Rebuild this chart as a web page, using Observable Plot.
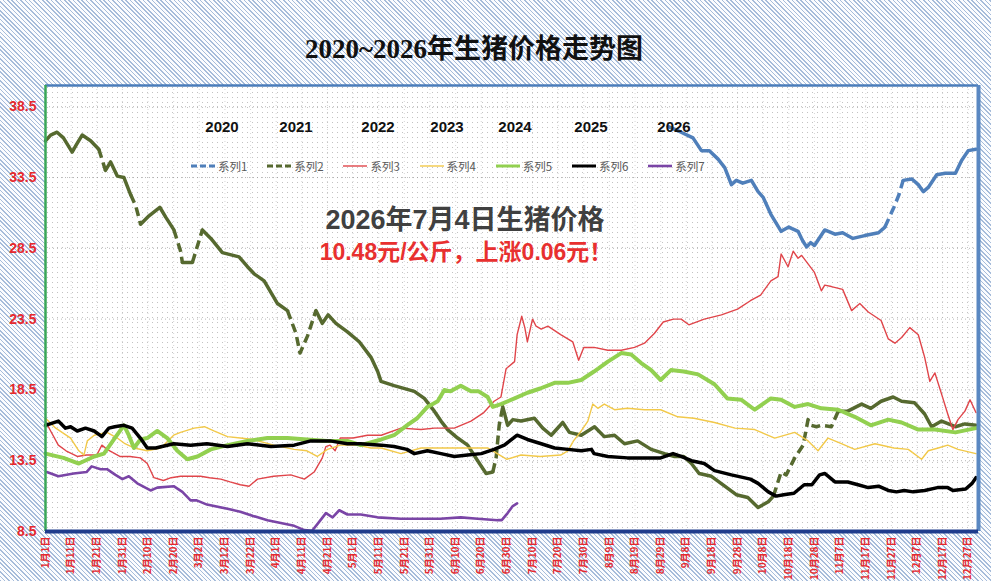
<!DOCTYPE html>
<html>
<head>
<meta charset="utf-8">
<script src="https://cdn.jsdelivr.net/npm/d3@7"></script>
<script src="https://cdn.jsdelivr.net/npm/@observablehq/plot@0.6"></script>
<style>
  html, body { margin: 0; padding: 0; }
  body {
    width: 991px; height: 581px; overflow: hidden;
    background: repeating-linear-gradient(45deg, #a6bcda 0 1.1px, #fbfcfe 1.1px 3.1px);
    font-family: "Liberation Sans", "Noto Sans CJK SC", sans-serif;
  }
  #wrap { position: relative; width: 991px; height: 581px; }
  #plotbg {
    position: absolute; left: 45px; top: 85px; width: 933px; height: 446px;
    background-color: #fff;
    background-image: radial-gradient(circle, #c2c2c2 0.55px, transparent 0.9px);
    background-size: 5px 5px;
  }
  #chart { position: absolute; left: 0; top: 0; }
  .abs { position: absolute; transform: translate(-50%, -50%); white-space: nowrap; }
  #title { font-family: "Liberation Serif", "Noto Sans CJK SC", serif; font-weight: bold; font-size: 27px; color: #111; }
  #ann1 { font-family: "Liberation Sans", "Noto Sans CJK SC", sans-serif; font-weight: bold; font-size: 27px; color: #404040; }
  #ann2 { font-family: "Liberation Sans", "Noto Sans CJK SC", sans-serif; font-weight: bold; font-size: 23px; color: #e8302f; }
  .year { font-weight: bold; font-size: 15px; color: #111; }
  .leg { position: absolute; display: flex; align-items: center; transform: translateY(-50%); font-family: "Noto Sans CJK SC", sans-serif; font-size: 11.5px; color: #595959; }
  .leg svg { margin-right: 2px; }
</style>
</head>
<body>
<div id="wrap">
  <div id="plotbg"></div>
  <div id="chart"></div>
</div>
<script>
// ---------------- data ----------------
const seriesNames = ["系列1", "系列2", "系列3", "系列4", "系列5", "系列6", "系列7"];
const yearLabels = ["2020", "2021", "2022", "2023", "2024", "2025", "2026"];
const titleText = "2020~2026年生猪价格走势图";
const noteLine1 = "2026年7月4日生猪价格";
const noteLine2 = "10.48元/公斤，上涨0.06元！";
const yTicks = [8.5, 13.5, 18.5, 23.5, 28.5, 33.5, 38.5];
const tickDays = [0,10,20,30,40,50,60,70,80,90,100,110,120,130,140,150,160,170,180,190,200,210,220,230,240,250,260,270,280,290,300,310,320,330,340,350,360];
const dateLabels = ["1月1日","1月11日","1月21日","1月31日","2月10日","2月20日","3月2日","3月12日","3月22日","4月1日","4月11日","4月21日","5月1日","5月11日","5月21日","5月31日","6月10日","6月20日","6月30日","7月10日","7月20日","7月30日","8月9日","8月19日","8月29日","9月8日","9月18日","9月28日","10月8日","10月18日","10月28日","11月7日","11月17日","11月27日","12月7日","12月17日","12月27日"];

// [day of year, price]
const s1 = [[243,37.1],[248,36.7],[252.6,36.3],[255.9,35.4],[259,35.4],[262.4,34.8],[265,34.2],[267.6,33.0],[269.5,33.3],[272,33.1],[275.4,33.3],[278,32.5],[280,32.1],[283,30.9],[287,29.7],[290,30.0],[293.6,29.7],[295.5,29.0],[297,28.6],[298.5,28.9],[300,28.7],[304,29.8],[308,29.5],[311,29.6],[315,29.2],[319.6,29.4],[325,29.6],[327.5,30.0],[331,31.4],[333,32.3],[334.6,33.3],[338,33.4],[340.5,33.0],[342.5,32.5],[344.4,32.8],[347.7,33.7],[351,33.8],[355,33.8],[357.4,34.7],[360,35.4],[363,35.5]];
const s1Missing = [[295.8, 297.2], [327.8, 334.2]];

const s2 = [[0,36.1],[2,36.5],[4.5,36.7],[7,36.3],[10.4,35.3],[12,35.8],[14.3,36.5],[17.6,36.1],[20.8,35.5],[23.4,34.0],[25.4,34.6],[28,33.6],[30.6,33.5],[33.2,32.3],[35.2,31.5],[37.1,30.2],[40.4,30.8],[44.6,31.4],[46.9,30.7],[50.1,29.8],[52.7,28.3],[53.4,27.5],[57.3,27.5],[61.2,29.8],[64.5,29.2],[69,28.2],[75.5,27.9],[78.8,27.2],[81.4,26.7],[85.3,26.2],[90.5,24.6],[94.4,24.1],[97.7,22.5],[99.3,21.1],[102.2,22.3],[105.5,24.1],[108,23.2],[110.3,23.8],[113.3,23.2],[117.8,22.6],[122.4,21.9],[127,20.8],[129.6,19.8],[130.9,19.1],[136,18.8],[143.9,18.4],[147.8,17.9],[151.7,17.0],[154.3,16.3],[156.9,15.7],[160.8,15.1],[164.7,14.6],[168.6,13.5],[171.9,12.6],[174.5,12.7],[175.8,13.7],[177,16.0],[178.4,17.3],[180.3,16.0],[182.3,16.4],[185.5,16.3],[190.7,16.5],[194,15.8],[197.3,15.3],[201.8,16.2],[204.4,15.5],[209,15.3],[214.2,15.9],[218,15.2],[222,15.3],[225.9,14.7],[231,14.9],[236.3,14.3],[241.5,14.0],[245.4,13.8],[249,13.8],[252,13.3],[255,12.6],[259.8,12.4],[265,11.7],[269.5,11.1],[274,10.9],[278,10.2],[282,10.6],[284,11.0],[287,12.7],[289,12.5],[292.3,13.7],[295.6,14.6],[297.5,16.4],[298.8,16.0],[300.8,15.9],[302.7,16.0],[306.6,15.9],[309.3,17.0],[313,17.0],[318.4,17.5],[322,17.2],[326,17.7],[330.7,18.0],[334,17.7],[339,17.6],[343,16.8],[345.7,15.9],[349.6,16.3],[355,15.9],[358.7,16.1],[363,16.0]];
const s2Missing = [[21.5, 23], [33.5, 37], [50.5, 54], [57.5, 61], [95.5, 105], [174.8, 178], [284.1, 309.5]];

const s3 = [[0,16.3],[2,15.6],[5,14.6],[8,14.2],[12.4,13.8],[16,13.9],[20,13.9],[22,14.6],[24,14.3],[29,13.8],[33,13.8],[37,13.7],[39.7,13.3],[42.3,12.3],[46,12.1],[49,12.3],[52.7,12.4],[60.5,12.4],[64,12.3],[68.4,12.2],[72,12.0],[76,11.8],[79.4,11.7],[82.7,12.2],[89,12.4],[95.7,12.5],[101,12.2],[104.8,12.7],[108,13.7],[109.4,14.5],[111,14.6],[113,14.2],[115,15.1],[120,15.1],[125.6,15.3],[131,15.3],[138.7,15.8],[146.5,15.7],[151.7,15.8],[159.5,15.8],[166,16.3],[171,16.9],[175,17.7],[177.7,18.0],[179.7,20.0],[183,20.5],[184,22.4],[185.8,23.7],[187,22.9],[188,21.9],[190,23.5],[191.4,23.0],[193.4,22.8],[196,23.0],[201,22.4],[205.7,21.9],[208,20.6],[210,21.5],[214,21.5],[219.4,21.3],[224.6,21.3],[229.8,21.5],[233.7,21.8],[237.6,22.5],[241,23.3],[245,23.5],[248,23.5],[251,23.1],[257,23.5],[263.7,23.8],[270,24.2],[275,24.8],[279,25.2],[283,26.2],[285.8,26.5],[287,28.1],[289.7,27.2],[291.7,28.3],[293.6,27.8],[295,28.0],[297.5,27.4],[300,26.8],[302.7,25.5],[304,25.9],[306.6,25.8],[311,25.6],[314.5,24.1],[317.7,24.6],[321,24.0],[326,23.4],[328.8,22.1],[331.4,21.8],[334,22.2],[337.2,22.9],[340.5,22.4],[343,20.8],[345,19.1],[347,19.7],[349.6,18.2],[352,16.8],[354,15.7],[356,16.4],[358.7,17.0],[360.7,17.8],[363,16.9]];

const s4 = [[0,16.5],[4,15.8],[9.8,15.1],[13,14.2],[15,13.9],[16.3,14.9],[19,15.3],[24,15.5],[28,15.1],[31,14.7],[34.5,14.4],[39.7,14.2],[45,14.4],[50,15.3],[52.7,15.5],[58,15.8],[62,15.9],[65.7,15.6],[71,15.2],[76,15.1],[81,15.0],[89,14.6],[97,14.3],[102,14.2],[106,13.8],[110,14.3],[115,14.6],[121.8,14.6],[127,14.4],[131,14.4],[138.7,14.0],[146.5,14.4],[157,14.4],[166,14.4],[172.5,14.4],[180,13.6],[185.5,13.9],[193,13.8],[201,13.9],[203.8,14.2],[206,14.9],[209,15.6],[211.6,16.3],[213.5,17.5],[215.5,17.2],[218,17.5],[222,17.1],[227,17.2],[233.7,17.1],[240,17.1],[246.7,16.6],[253,16.5],[261,16.2],[269,15.8],[276.7,15.7],[284.5,15.1],[292.3,15.5],[297.5,14.9],[301.4,14.2],[305.3,15.1],[310.5,14.7],[315.7,14.3],[323.6,14.7],[331,14.4],[336.6,14.3],[341.8,13.6],[344.4,14.2],[348.3,14.4],[352,14.6],[356,14.3],[363,14.0]];

const s5 = [[0,14.0],[7,13.7],[13,13.3],[19,13.8],[22.8,14.0],[26.7,15.0],[30.6,16.0],[32.5,15.3],[34.5,14.4],[37,15.0],[39.7,15.1],[43.6,15.6],[47.5,15.1],[51.4,14.2],[55.3,13.6],[59.3,13.8],[64.5,14.3],[71,14.6],[78.8,14.9],[86.6,15.1],[94.4,15.1],[102,15.0],[110,14.9],[117.8,14.9],[123,14.6],[131,15.0],[136,15.3],[141,16.0],[145,16.5],[149,17.3],[153,17.7],[155.6,18.5],[158,18.4],[162,18.8],[166,18.4],[169,18.4],[172.5,18.0],[174.5,17.3],[177.7,17.5],[183,17.9],[188,18.3],[193,18.6],[198.6,19.0],[203.8,19.0],[209,19.2],[214,19.8],[219.4,20.5],[224.6,21.1],[228.5,21.0],[232.4,20.4],[236.3,19.9],[240,19.2],[244,19.9],[249,19.8],[254.6,19.6],[261,18.9],[266,17.9],[271.5,17.8],[276.7,17.1],[283,17.9],[287,17.8],[292.3,17.3],[297.5,17.5],[302.7,17.2],[309.3,17.1],[315.7,16.6],[322,16.0],[328.8,16.4],[334,16.2],[340.5,15.7],[347,15.7],[355,15.5],[363,15.8]];

const s6 = [[0,16.0],[5,16.3],[7.8,15.8],[9.8,15.9],[12.4,15.6],[15.6,15.8],[19,15.6],[22,15.2],[24.7,15.8],[27,15.9],[30.6,16.0],[33.8,15.8],[37,15.1],[39.7,14.4],[43,14.4],[50,14.7],[56.6,14.6],[63,14.7],[71,14.5],[78.8,14.7],[88,14.5],[97,14.6],[103.5,14.9],[111,14.9],[117.8,14.7],[123,14.7],[131,14.6],[136,14.5],[141,14.3],[143.9,14.0],[149,14.2],[154.3,14.0],[159.5,13.8],[164.7,13.9],[170,14.0],[175,14.3],[179,14.6],[184,15.3],[188,15.0],[193.4,14.7],[198.6,14.4],[203.8,14.3],[209,14.2],[213,14.3],[214,14.0],[219.4,13.8],[227,13.7],[235,13.7],[240,13.7],[244.8,14.0],[248,13.8],[252,13.5],[257,13.3],[261,12.8],[267.6,12.5],[275,12.2],[278,11.9],[282,11.3],[285,11.0],[288,11.1],[292,11.2],[296,11.8],[299,11.8],[302,12.5],[304,12.6],[308,12.0],[313,12.0],[317,11.8],[321,11.6],[325,11.7],[328.8,11.4],[332,11.3],[335,11.4],[338.5,11.3],[343,11.4],[348,11.6],[352,11.6],[354,11.4],[359,11.5],[361.5,11.9],[363,12.3]];

const s7 = [[0.5,12.7],[5,12.4],[11,12.6],[16,12.7],[18,13.1],[21.5,12.9],[24,12.9],[27.3,12.5],[30,12.2],[32.5,12.4],[35.8,11.9],[41,11.4],[43.6,11.6],[50,11.7],[53.4,11.3],[56.6,10.7],[59,10.7],[63,10.4],[71,10.1],[76,9.9],[81,9.6],[86.6,9.3],[91.8,9.1],[97,8.9],[101,8.6],[104,8.55],[106,9.0],[109.4,9.8],[112,9.5],[114.6,10.0],[117.8,9.7],[123,9.7],[129.5,9.5],[138.7,9.4],[146.5,9.4],[154,9.4],[162,9.5],[168.6,9.4],[176.4,9.3],[178,9.3],[180.3,9.8],[182.3,10.3],[184,10.48]];

// ---------------- styling / layout ----------------
const styles = [
  {stroke: "#4f7fba", width: 3.5, dashedLegend: true},
  {stroke: "#56692f", width: 3.5, dashedLegend: true},
  {stroke: "#e0454a", width: 1.4},
  {stroke: "#f2c94a", width: 1.4},
  {stroke: "#92d050", width: 4},
  {stroke: "#000000", width: 3.5},
  {stroke: "#7a45a6", width: 2.6}
];
const seriesData = [s1, s2, s3, s4, s5, s6, s7];
const missing = [s1Missing, s2Missing, [], [], [], [], []];

function split(points, gaps) {
  const solid = [], dashed = [];
  let run = 0, prev = null;
  for (let i = 1; i < points.length; i++) {
    const [x0, y0] = points[i - 1], [x1, y1] = points[i];
    const m = (x0 + x1) / 2;
    const isDash = gaps.some(([a, b]) => m >= a && m <= b);
    const target = isDash ? dashed : solid;
    if (isDash !== prev) { run++; target.push({x: x0, y: y0, run}); }
    target.push({x: x1, y: y1, run});
    prev = isDash;
  }
  return {solid, dashed};
}

const lineMarks = [];
seriesData.forEach((pts, i) => {
  const st = styles[i];
  const {solid, dashed} = split(pts, missing[i]);
  const common = {x: "x", y: "y", z: "run", stroke: st.stroke, strokeWidth: st.width, strokeLinejoin: "round", strokeLinecap: "round"};
  lineMarks.push(Plot.line(solid, common));
  if (dashed.length) lineMarks.push(Plot.line(dashed, {...common, strokeDasharray: "9,5", strokeLinecap: "butt"}));
});

const red = "#e5292e";
const chart = Plot.plot({
  width: 991,
  height: 581,
  marginLeft: 45,
  marginRight: 13,
  marginTop: 85,
  marginBottom: 50,
  style: {background: "transparent", fontFamily: "'Liberation Sans', 'Noto Sans CJK SC', sans-serif", overflow: "visible"},
  x: {domain: [0, 364]},
  y: {domain: [8.5, 40]},
  marks: [
    Plot.gridY(yTicks, {stroke: "#9a9a9a", strokeOpacity: 0.7, strokeDasharray: "1,3"}),
    Plot.gridX(tickDays, {stroke: "#9a9a9a", strokeOpacity: 0.4, strokeDasharray: "1,3"}),
    ...lineMarks,
    Plot.ruleY([40], {stroke: "#4a7cba", strokeWidth: 2.5}),
    Plot.ruleX([364], {stroke: "#5a88c2", strokeWidth: 4}),
    Plot.ruleX([0], {stroke: "#3aa757", strokeWidth: 2.5}),
    Plot.ruleY([8.5], {stroke: "#1f3c8c", strokeWidth: 4}),
    Plot.axisY({ticks: yTicks, tickFormat: d => d.toFixed(1), tickSize: 0, tickPadding: 9, fill: red, fontSize: 14, fontWeight: "bold", label: null}),
    Plot.axisX({ticks: tickDays, tickFormat: d => dateLabels[tickDays.indexOf(d)], tickRotate: -90, tickSize: 0, tickPadding: 5, fill: red, fontSize: 10, fontWeight: "bold", fontFamily: "'Noto Sans CJK SC', sans-serif", label: null})
  ]
});
document.getElementById("chart").appendChild(chart);

// ---------------- overlay texts ----------------
const wrap = document.getElementById("wrap");
function addText(id, cls, text, x, y) {
  const d = document.createElement("div");
  if (id) d.id = id;
  d.className = "abs " + (cls || "");
  d.textContent = text;
  d.style.left = x + "px";
  d.style.top = y + "px";
  wrap.appendChild(d);
}
addText("title", "", titleText, 474, 46);
addText("ann1", "", noteLine1, 465, 217);
addText("ann2", "", noteLine2, 466, 250);

const yearX = [222, 296, 378, 447, 515, 591, 674];
yearLabels.forEach((t, i) => addText(null, "year", t, yearX[i], 126));

const legendX0 = 190, legendStep = 76.2, legendY = 166;
seriesNames.forEach((name, i) => {
  const st = styles[i];
  const item = document.createElement("div");
  item.className = "leg";
  item.style.left = (legendX0 + i * legendStep) + "px";
  item.style.top = legendY + "px";
  const sw = d3.create("svg").attr("width", 26).attr("height", 8);
  sw.append("line").attr("x1", 1).attr("x2", 25).attr("y1", 4).attr("y2", 4)
    .attr("stroke", st.stroke)
    .attr("stroke-width", Math.min(st.width, 3))
    .attr("stroke-dasharray", st.dashedLegend ? "6,3" : null);
  item.appendChild(sw.node());
  const lab = document.createElement("span");
  lab.textContent = name;
  item.appendChild(lab);
  wrap.appendChild(item);
});
</script>
</body>
</html>
